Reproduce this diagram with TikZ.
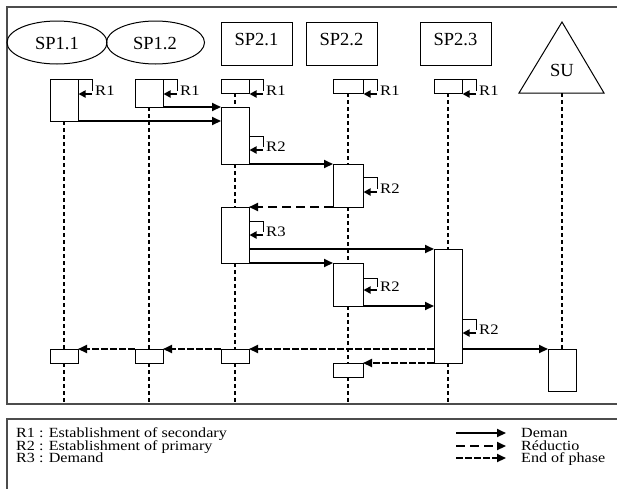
\documentclass[tikz,border=0pt]{standalone}
\usepackage{fontspec}
\setmainfont{Liberation Serif}
\newfontfamily\widefont{Liberation Serif}[FakeStretch=1.15]
\usetikzlibrary{arrows.meta,shapes.geometric}
\newcommand\selfref[5]{%
  \draw[line width=1pt] (#1.north east) ++(0,#2) -- ++(14,0) -- ++(0,#3-3);
  \draw[looptip] (#1.north east) ++(14,#2+#3) -- ++(-13.5,0);
  \node[lbl] (#5) at ([shift={(17,#2+#3-3)}]#1.north east) {#4};
}
\begin{document}
\begin{tikzpicture}[x=1pt,y=-1pt,
  box/.style={draw,line width=1pt,inner sep=0pt,outer sep=0pt,anchor=north west},
  lifeline/.style={line width=2pt,dash pattern=on 4pt off 3pt},
  tip/.style={-{Triangle[length=9pt,width=8pt]}},
  looptip/.style={-{Triangle[length=7pt,width=7pt]},line width=2pt},
  demand/.style={tip,line width=2pt},
  reduc/.style={tip,line width=2pt,dash pattern=on 9pt off 5pt},
  endph/.style={tip,line width=2pt,dash pattern=on 7pt off 2pt},
  hdr/.style={font=\fontsize{18.5}{18.5}\selectfont,inner sep=0pt},
  lbl/.style={font=\widefont\fontsize{14.5}{14.5}\selectfont,inner sep=0pt,anchor=west,text height=9.5pt,text depth=0pt},
  legt/.style={font=\widefont\fontsize{14}{14}\selectfont,inner sep=0pt,anchor=base west,text height=9pt,text depth=2pt},
  frame/.style={draw=black!70,line width=2pt}
]
\useasboundingbox (0,0) rectangle (617,488);
\clip (0,0) rectangle (617,488);
\fill[white] (0,0) rectangle (617,488);
% frames
\draw[frame] (7,7) rectangle (640,404);
\draw[frame] (7,419) rectangle (640,500);
\coordinate (bot) at (0,403);
% headers
\node[draw,ellipse,line width=1pt,minimum width=100pt,minimum height=43pt,inner sep=0pt] (h11) at (57,42.5) {};
\node[hdr] (t11) at (57,44) {SP1.1};
\node[draw,ellipse,line width=1pt,minimum width=98pt,minimum height=43pt,inner sep=0pt] (h12) at (155.5,42.5) {};
\node[hdr] (t12) at (155,44) {SP1.2};
\node[box,minimum width=71pt,minimum height=43pt] (h21) at (221,22) {};
\node[hdr] (t21) at (256.5,40) {SP2.1};
\node[box,minimum width=71pt,minimum height=43pt] (h22) at (306,22) {};
\node[hdr] (t22) at (341.5,40) {SP2.2};
\node[box,minimum width=71pt,minimum height=43pt] (h23) at (420,22) {};
\node[hdr] (t23) at (455.5,40) {SP2.3};
\coordinate (suapex) at (562,22);
\coordinate (sul) at (519,93);
\coordinate (sur) at (604,93);
\coordinate (subase) at (562,93);
\draw[line width=1pt] (suapex) -- (sul) -- (sur) -- cycle;
\node[hdr] (tsu) at (562,70) {SU};
% activation boxes
\node[box,minimum width=28pt,minimum height=42pt] (a11) at (50,79) {};
\node[box,minimum width=28pt,minimum height=28pt] (a12) at (135,79) {};
\node[box,minimum width=28pt,minimum height=14pt] (a21) at (221,79) {};
\node[box,minimum width=30pt,minimum height=14pt] (a22) at (333,79) {};
\node[box,minimum width=28pt,minimum height=14pt] (a23) at (434,79) {};
\node[box,minimum width=28pt,minimum height=57pt] (b21) at (221,107) {};
\node[box,minimum width=30pt,minimum height=43pt] (b22) at (333,164) {};
\node[box,minimum width=28pt,minimum height=56pt] (c21) at (221,207) {};
\node[box,minimum width=30pt,minimum height=43pt] (c22) at (333,263) {};
\node[box,minimum width=28pt,minimum height=114pt] (b23) at (434,249) {};
\node[box,minimum width=28pt,minimum height=14pt] (e11) at (50,349) {};
\node[box,minimum width=28pt,minimum height=14pt] (e12) at (135,349) {};
\node[box,minimum width=28pt,minimum height=14pt] (e21) at (221,349) {};
\node[box,minimum width=30pt,minimum height=14pt] (e22) at (333,363) {};
\node[box,minimum width=28pt,minimum height=42pt] (su) at (548,349) {};
% lifelines
\draw[lifeline] (a11.south) -- (e11.north);
\draw[lifeline] (e11.south) -- (e11.south |- bot);
\draw[lifeline] (a12.south) -- (e12.north);
\draw[lifeline] (e12.south) -- (e12.south |- bot);
\draw[lifeline] (a21.south) -- (b21.north);
\draw[lifeline] (b21.south) -- (c21.north);
\draw[lifeline] (c21.south) -- (e21.north);
\draw[lifeline] (e21.south) -- (e21.south |- bot);
\draw[lifeline] (a22.south) -- (b22.north);
\draw[lifeline] (b22.south) -- (c22.north);
\draw[lifeline] (c22.south) -- (e22.north);
\draw[lifeline] (e22.south) -- (e22.south |- bot);
\draw[lifeline] (a23.south) -- (b23.north);
\draw[lifeline] (b23.south) -- (b23.south |- bot);
\draw[lifeline] (subase) -- (su.north);
% self references
\selfref{a11}{0}{15}{R1}{r11}
\selfref{a12}{0}{15}{R1}{r12}
\selfref{a21}{0}{15}{R1}{r21}
\selfref{a22}{0}{15}{R1}{r22}
\selfref{a23}{0}{15}{R1}{r23}
\selfref{b21}{29}{14}{R2}{s21}
\selfref{b22}{13}{15}{R2}{s22}
\selfref{c21}{14}{14}{R3}{s31}
\selfref{c22}{15}{12}{R2}{s32}
\selfref{b23}{70}{14}{R2}{s23}
% messages
\draw[demand] (a12.south east) -- (b21.north west);
\draw[demand] (a11.south east) -- (a11.south east -| b21.west);
\draw[demand] (b21.south east) -- (b22.north west);
\draw[reduc] (b22.south west) -- (c21.north east);
\draw[demand] (c21.east |- b23.north west) -- (b23.north west);
\draw[demand] (c21.south east) -- (c22.north west);
\draw[demand] (c22.south east) -- (c22.south east -| b23.west);
\draw[endph] (b23.west |- e21.north east) -- (e21.north east);
\draw[endph] (e21.north west) -- (e12.north east);
\draw[endph] (e12.north west) -- (e11.north east);
\draw[endph] (b23.south west) -- (e22.north east);
\draw[demand] (b23.east |- su.north west) -- (su.north west);
% legend
\node[legt] (l1) at (16,437) {R1 : Establishment of secondary};
\node[legt] (l2) at (16,450) {R2 : Establishment of primary};
\node[legt] (l3) at (16,462.5) {R3 : Demand};
\coordinate (la1) at (456,433); \coordinate (lb1) at (506,433);
\coordinate (la2) at (456,446); \coordinate (lb2) at (506,446);
\coordinate (la3) at (456,458); \coordinate (lb3) at (506,458);
\draw[demand] (la1) -- (lb1);
\draw[reduc] (la2) -- (lb2);
\draw[endph] (la3) -- (lb3);
\node[legt] (m1) at (521,437) {Deman};
\node[legt] (m2) at (521,450) {Réductio};
\node[legt] (m3) at (521,462.5) {End of phase};
\end{tikzpicture}
\end{document}
